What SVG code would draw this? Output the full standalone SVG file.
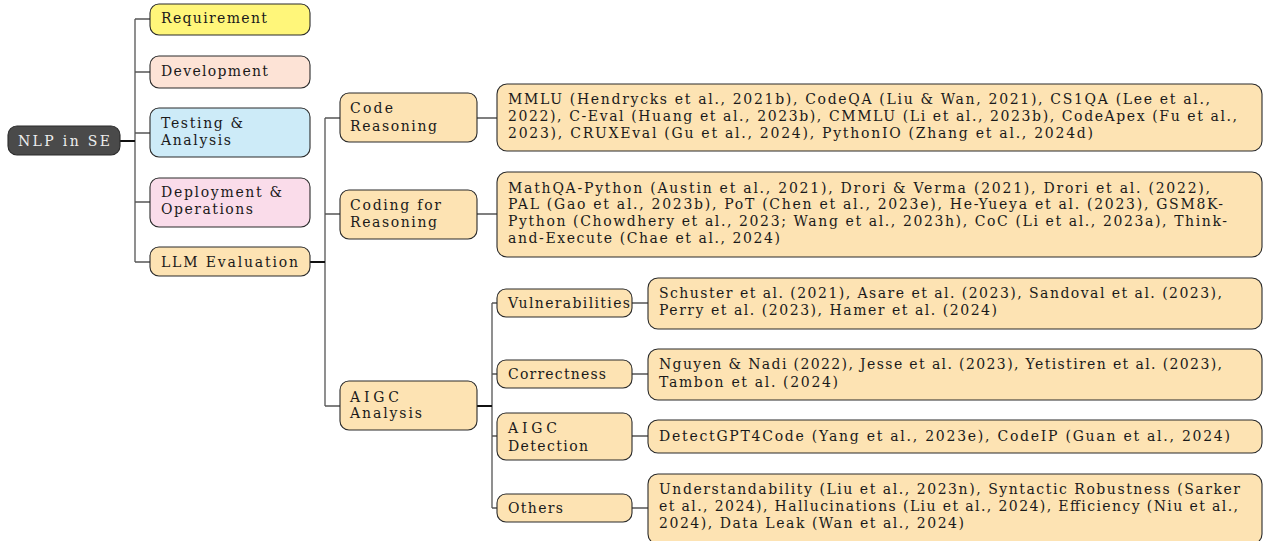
<svg xmlns="http://www.w3.org/2000/svg" width="1263" height="541" viewBox="0 0 1263 541">
<style>
text{font-family:"DejaVu Serif","Liberation Serif",serif;font-size:14px;fill:#1a1a1a}
.box{stroke:#2b2b2b;stroke-width:1.1}
.leaf{fill:#fde3b3}
.c{fill:none;stroke:#555;stroke-width:1.3}
.p{fill:none;stroke:#111;stroke-width:2}
.root{fill:#4a4a4a}
.rt{fill:#eeeeee}
</style>
<rect width="1263" height="541" fill="#fff"/>
<g id="connectors">
<path class="c" d="M135 19V262M135 19H150M135 72H150M135 133H150M135 202H150M135 262H150"/>
<path class="p" d="M120 141H135"/>
<path class="c" d="M325 118V406M325 118H340M325 214H340M325 406H340"/>
<path class="p" d="M310 262H325"/>
<path class="c" d="M477 118H497M477 214H497"/>
<path class="c" d="M492 303V508M492 303H497M492 374H497M492 436H497M492 508H497"/>
<path class="p" d="M477 406H492"/>
<path class="c" d="M632 303H648M632 374H648M632 436H648M632 508H648"/>
</g>
<g id="root"><rect class="box root" x="8" y="126" width="112" height="29" rx="9"/><text class="rt" x="18" y="146" textLength="92" lengthAdjust="spacing">NLP in SE</text></g>
<g id="requirement"><rect class="box" fill="#fff67a" x="150" y="4" width="160" height="31" rx="9"/><text x="161" y="23" textLength="106" lengthAdjust="spacing">Requirement</text></g>
<g id="development"><rect class="box" fill="#fde3d6" x="150" y="56" width="160" height="32" rx="9"/><text x="161" y="76" textLength="107" lengthAdjust="spacing">Development</text></g>
<g id="testing"><rect class="box" fill="#cdebf8" x="150" y="108" width="160" height="49" rx="9"/><text x="161" y="128" textLength="82" lengthAdjust="spacing">Testing &amp;</text><text x="161" y="145" textLength="70" lengthAdjust="spacing">Analysis</text></g>
<g id="deployment"><rect class="box" fill="#fadcea" x="150" y="178" width="160" height="49" rx="9"/><text x="161" y="197" textLength="121" lengthAdjust="spacing">Deployment &amp;</text><text x="161" y="214" textLength="92" lengthAdjust="spacing">Operations</text></g>
<g id="llm-eval"><rect class="box leaf" x="150" y="247" width="160" height="29" rx="9"/><text x="161" y="267" textLength="137" lengthAdjust="spacing">LLM Evaluation</text></g>
<g id="code-reasoning"><rect class="box leaf" x="340" y="93" width="137" height="49" rx="9"/><text x="350" y="113" textLength="43" lengthAdjust="spacing">Code</text><text x="350" y="131" textLength="87" lengthAdjust="spacing">Reasoning</text></g>
<g id="coding-for-reasoning"><rect class="box leaf" x="340" y="190" width="137" height="49" rx="9"/><text x="350" y="210" textLength="91" lengthAdjust="spacing">Coding for</text><text x="350" y="227" textLength="87" lengthAdjust="spacing">Reasoning</text></g>
<g id="aigc-analysis"><rect class="box leaf" x="340" y="381" width="137" height="49" rx="9"/><text x="350" y="402" textLength="49" lengthAdjust="spacing">AIGC</text><text x="350" y="418" textLength="72" lengthAdjust="spacing">Analysis</text></g>
<g id="code-reasoning-leaf"><rect class="box leaf" x="497" y="84" width="765" height="67" rx="10"/>
<text x="508" y="104" textLength="702" lengthAdjust="spacing">MMLU (Hendrycks et al., 2021b), CodeQA (Liu &amp; Wan, 2021), CS1QA (Lee et al.,</text>
<text x="508" y="121" textLength="729" lengthAdjust="spacing">2022), C-Eval (Huang et al., 2023b), CMMLU (Li et al., 2023b), CodeApex (Fu et al.,</text>
<text x="508" y="138" textLength="585" lengthAdjust="spacing">2023), CRUXEval (Gu et al., 2024), PythonIO (Zhang et al., 2024d)</text></g>
<g id="coding-for-reasoning-leaf"><rect class="box leaf" x="497" y="172" width="765" height="85" rx="10"/>
<text x="508" y="193" textLength="702" lengthAdjust="spacing">MathQA-Python (Austin et al., 2021), Drori &amp; Verma (2021), Drori et al. (2022),</text>
<text x="508" y="209" textLength="715" lengthAdjust="spacing">PAL (Gao et al., 2023b), PoT (Chen et al., 2023e), He-Yueya et al. (2023), GSM8K-</text>
<text x="508" y="226" textLength="719" lengthAdjust="spacing">Python (Chowdhery et al., 2023; Wang et al., 2023h), CoC (Li et al., 2023a), Think-</text>
<text x="508" y="243" textLength="272" lengthAdjust="spacing">and-Execute (Chae et al., 2024)</text></g>
<g id="vulnerabilities"><rect class="box leaf" x="497" y="289" width="135" height="28" rx="9"/><text x="508" y="308" textLength="122" lengthAdjust="spacing">Vulnerabilities</text></g>
<g id="correctness"><rect class="box leaf" x="497" y="360" width="135" height="28" rx="9"/><text x="508" y="379" textLength="98" lengthAdjust="spacing">Correctness</text></g>
<g id="aigc-detection"><rect class="box leaf" x="497" y="413" width="135" height="47" rx="9"/><text x="508" y="433" textLength="49" lengthAdjust="spacing">AIGC</text><text x="508" y="451" textLength="80" lengthAdjust="spacing">Detection</text></g>
<g id="others"><rect class="box leaf" x="497" y="494" width="135" height="28" rx="9"/><text x="508" y="513" textLength="55" lengthAdjust="spacing">Others</text></g>
<g id="vulnerabilities-leaf"><rect class="box leaf" x="648" y="278" width="614" height="51" rx="10"/>
<text x="659" y="298" textLength="563" lengthAdjust="spacing">Schuster et al. (2021), Asare et al. (2023), Sandoval et al. (2023),</text>
<text x="659" y="315" textLength="338" lengthAdjust="spacing">Perry et al. (2023), Hamer et al. (2024)</text></g>
<g id="correctness-leaf"><rect class="box leaf" x="648" y="349" width="614" height="51" rx="10"/>
<text x="659" y="369" textLength="563" lengthAdjust="spacing">Nguyen &amp; Nadi (2022), Jesse et al. (2023), Yetistiren et al. (2023),</text>
<text x="659" y="387" textLength="179" lengthAdjust="spacing">Tambon et al. (2024)</text></g>
<g id="detection-leaf"><rect class="box leaf" x="648" y="420" width="614" height="33" rx="10"/>
<text x="659" y="441" textLength="571" lengthAdjust="spacing">DetectGPT4Code (Yang et al., 2023e), CodeIP (Guan et al., 2024)</text></g>
<g id="others-leaf"><rect class="box leaf" x="648" y="474" width="614" height="70" rx="10"/>
<text x="659" y="494" textLength="581" lengthAdjust="spacing">Understandability (Liu et al., 2023n), Syntactic Robustness (Sarker</text>
<text x="659" y="511" textLength="579" lengthAdjust="spacing">et al., 2024), Hallucinations (Liu et al., 2024), Efficiency (Niu et al.,</text>
<text x="659" y="528" textLength="305" lengthAdjust="spacing">2024), Data Leak (Wan et al., 2024)</text></g>
</svg>
